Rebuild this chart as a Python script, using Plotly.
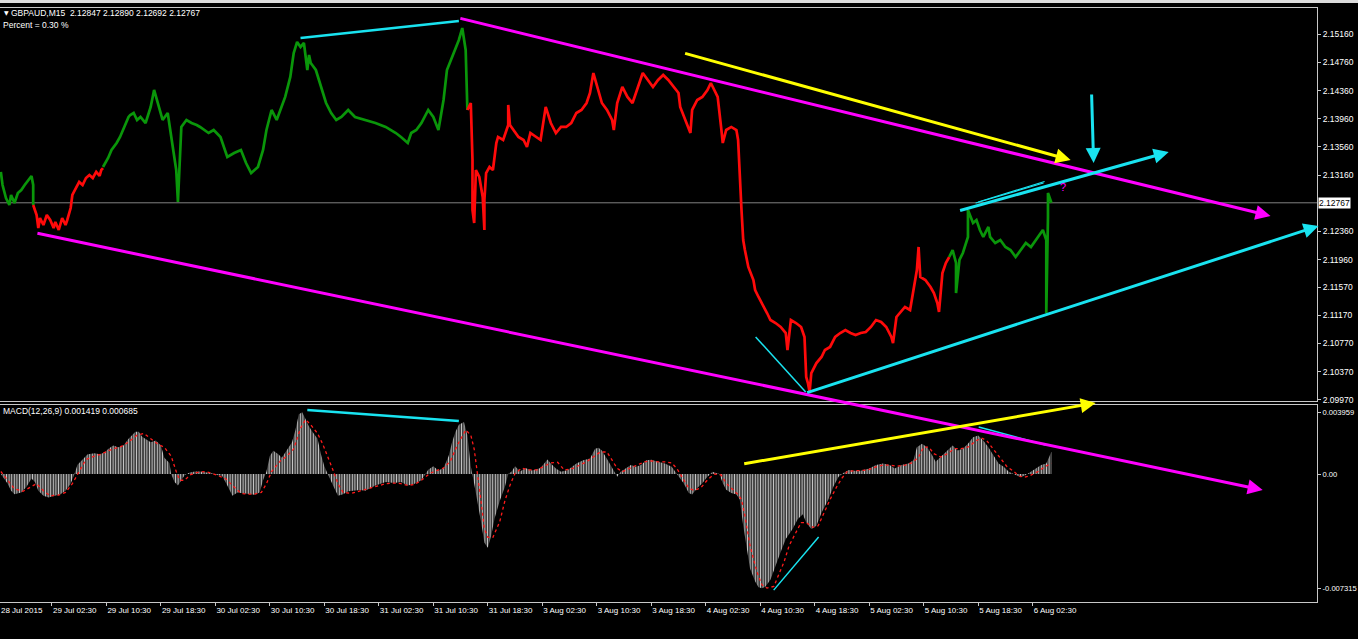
import plotly.graph_objects as go

W, H = 1358, 639

# ---------------- price data (bar index, price) by colour segment ----------------
g1_bar = [0, 1, 3, 5, 6, 8, 10, 12, 14, 16, 18, 19, 19]
g1_price = [2.13205, 2.13020, 2.12835, 2.12736, 2.12878, 2.12764, 2.12906, 2.12949, 2.13020, 2.13091,
            2.13148, 2.13020, 2.12736]

r1_bar = [19, 21, 22, 23, 25, 27, 29, 31, 32, 34, 36, 38, 39, 41, 42, 44, 46, 48, 50, 52, 54, 56, 58, 59, 60]
r1_price = [2.12736, 2.12594, 2.12409, 2.12551, 2.12452, 2.12594, 2.12523, 2.12409, 2.12495, 2.12381,
            2.12551, 2.12452, 2.12523, 2.12693, 2.12878, 2.12977, 2.13063, 2.13020, 2.13119, 2.13162,
            2.13119, 2.13205, 2.13148, 2.13233, 2.13261]

g2_bar = [60, 63, 65, 68, 70, 73, 75, 76, 78, 80, 82, 85, 88, 90, 92, 95, 98, 101, 103, 104,
          105, 106, 109, 112, 115, 117, 122, 125, 129, 133, 137, 141, 144, 147, 151, 154, 156, 159, 162, 164,
          167, 170, 172, 174, 176, 178, 180, 181, 182, 185, 188, 191, 194, 197, 200, 204, 208, 214, 220, 226,
          232, 235, 239, 241, 244, 247, 251, 254, 257, 258, 260, 262, 266, 269, 271, 273, 274]
g2_price = [2.13276, 2.13403, 2.13517, 2.13616, 2.13702, 2.13872, 2.13986, 2.14014, 2.14042, 2.13943,
            2.13986, 2.13900, 2.14128, 2.14369, 2.14184, 2.13943, 2.14042, 2.13517, 2.13233, 2.12779,
            2.13375, 2.13844, 2.13943, 2.13900, 2.13872, 2.13844, 2.13758, 2.13801, 2.13702, 2.13418,
            2.13474, 2.13517, 2.13332, 2.13190, 2.13276, 2.13517, 2.13801, 2.14085, 2.13943, 2.14085,
            2.14270, 2.14554, 2.14894, 2.15051, 2.14980, 2.15036, 2.14653, 2.14866, 2.14752, 2.14653,
            2.14412, 2.14184, 2.14042, 2.13943, 2.13986, 2.14085, 2.13986, 2.13943, 2.13900, 2.13844,
            2.13758, 2.13702, 2.13616, 2.13758, 2.13801, 2.13900, 2.14085, 2.13986, 2.13801, 2.13943,
            2.14227, 2.14653, 2.14894, 2.15079, 2.15249, 2.14937, 2.14085]

r2_bar = [274, 276, 277, 277, 278, 279, 281, 283, 284, 284, 285, 287, 289, 291, 292, 295, 298, 298, 299, 301,
          304, 307, 309, 311, 314, 317, 320, 323, 326, 329, 332, 335, 338, 341, 344, 346, 348, 351, 353, 356,
          359, 360, 362, 365, 368, 371, 374, 377, 380, 383, 386, 389, 392, 395, 398, 399, 402, 404, 405, 406,
          409, 412, 415, 417, 419, 421, 423, 424, 426, 429, 432, 433, 435, 436, 437, 439, 442, 443, 445, 447,
          450, 452, 455, 458, 461, 462, 464, 467, 470, 472, 473, 474, 475, 476, 479, 482, 484, 487, 490, 493,
          496, 499, 502, 505, 508, 511, 514, 517, 520, 523, 524, 526, 528, 531, 534, 536, 538, 539, 540, 543,
          546, 548, 550, 551, 553, 555, 557]
r2_price = [2.14085, 2.14184, 2.13375, 2.12665, 2.12480, 2.13233, 2.13134, 2.12850, 2.12381, 2.12807,
            2.13190, 2.13276, 2.13233, 2.13616, 2.13702, 2.13659, 2.13872, 2.14156, 2.13872, 2.13801,
            2.13702, 2.13659, 2.13560, 2.13758, 2.13702, 2.13659, 2.14128, 2.13900, 2.13758, 2.13844,
            2.13844, 2.13900, 2.14042, 2.14085, 2.14184, 2.14326, 2.14610, 2.14369, 2.14184, 2.14085,
            2.13943, 2.13801, 2.14184, 2.14412, 2.14270, 2.14184, 2.14412, 2.14610, 2.14511, 2.14412,
            2.14511, 2.14582, 2.14511, 2.14412, 2.14326, 2.14128, 2.13943, 2.13844, 2.13758, 2.14085,
            2.14227, 2.14270, 2.14369, 2.14468, 2.14369, 2.14270, 2.13844, 2.13616, 2.13801, 2.13844,
            2.13801, 2.13659, 2.12665, 2.12239, 2.12097, 2.11856, 2.11671, 2.11529, 2.11430, 2.11344,
            2.11202, 2.11103, 2.11060, 2.11004, 2.10918, 2.10677, 2.11103, 2.11060, 2.11004, 2.10862,
            2.10294, 2.10208, 2.10081, 2.10350, 2.10492, 2.10578, 2.10677, 2.10720, 2.10862, 2.10918,
            2.10961, 2.10918, 2.10890, 2.10918, 2.10933, 2.11004, 2.11103, 2.11075, 2.11004, 2.10862,
            2.10776, 2.11146, 2.11202, 2.11288, 2.11245, 2.11529, 2.11813, 2.12140, 2.11714, 2.11671,
            2.11572, 2.11486, 2.11344, 2.11217, 2.11770, 2.11912, 2.11998]

g3_bar = [557, 559, 561, 561, 563, 565, 568, 568, 571, 573, 575, 577, 580, 581, 584, 587, 590, 593, 596, 599,
          602, 605, 608, 611, 612, 614, 614, 615, 615, 617]
g3_price = [2.11998, 2.12097, 2.11912, 2.11486, 2.11955, 2.12054, 2.12282, 2.12665, 2.12480, 2.12523,
            2.12381, 2.12282, 2.12424, 2.12282, 2.12196, 2.12239, 2.12140, 2.12097, 2.11998, 2.12097,
            2.12196, 2.12140, 2.12239, 2.12338, 2.12381, 2.12239, 2.11202, 2.12566, 2.12906, 2.12767]

last_price = 2.12767

# ---------------- MACD (12,26,9) ----------------
hist_bar = [0, 2, 4, 6, 8, 12, 15, 18, 20, 22, 25, 28, 31, 35, 38, 41, 43, 45, 48, 51,
            55, 58, 61, 63, 66, 69, 72, 75, 79, 81, 83, 85, 88, 91, 94, 96, 99, 100, 102, 104,
            106, 108, 111, 114, 117, 121, 124, 127, 130, 133, 136, 139, 143, 146, 149, 152, 154, 156, 158, 160,
            163, 165, 167, 169, 171, 173, 175, 177, 179, 181, 183, 186, 188, 190, 192, 194, 196, 198, 201, 204,
            208, 211, 214, 217, 220, 223, 226, 231, 235, 239, 243, 247, 251, 254, 257, 260, 263, 265, 267, 269,
            272, 274, 276, 278, 280, 282, 284, 286, 288, 290, 293, 296, 298, 300, 302, 305, 308, 312, 317, 321,
            323, 326, 329, 333, 338, 342, 346, 349, 351, 353, 357, 360, 362, 364, 367, 370, 373, 376, 379, 382,
            386, 390, 394, 397, 401, 404, 406, 409, 412, 415, 418, 422, 424, 426, 429, 432, 434, 436, 438, 440,
            443, 445, 447, 449, 452, 455, 458, 461, 465, 468, 471, 473, 476, 479, 482, 486, 489, 492, 495, 498,
            501, 505, 510, 514, 518, 522, 525, 529, 533, 536, 538, 541, 544, 547, 549, 553, 556, 559, 562, 565,
            568, 571, 574, 577, 580, 583, 586, 589, 592, 596, 599, 602, 605, 608, 611, 614, 617]
hist_val = [0, -0.00029, -0.00062, -0.00107, -0.00129, -0.00118, -0.00084, -0.00029, -0.00051, -0.00107,
            -0.00140, -0.00151, -0.00140, -0.00129, -0.00107, -0.00062, -0.00007, 0.00060, 0.00093, 0.00127,
            0.00133, 0.00127, 0.00138, 0.00160, 0.00182, 0.00171, 0.00182, 0.00226, 0.00271, 0.00271,
            0.00238, 0.00226, 0.00204, 0.00215, 0.00182, 0.00104, 0.00071, 0, -0.00051, -0.00073,
            -0.00040, -0.00007, 0.00009, 0.00016, 0.00016, 0.00009, 0.00004, -0.00007, -0.00013, -0.00073,
            -0.00140, -0.00118, -0.00124, -0.00129, -0.00133, -0.00118, -0.00040, 0.00016, 0.00115, 0.00149,
            0.00127, 0.00104, 0.00138, 0.00171, 0.00204, 0.00282, 0.00382, 0.003959, 0.00349, 0.00304,
            0.00271, 0.00226, 0.00127, 0.00049, 0, -0.00051, -0.00095, -0.00140, -0.00129, -0.00111,
            -0.00107, -0.00102, -0.00107, -0.00089, -0.00073, -0.00062, -0.00051, -0.00058, -0.00051, -0.00073,
            -0.00062, -0.00040, 0.00027, 0.00049, 0.00022, 0.00038, 0.00115, 0.00204, 0.00271, 0.00315,
            0.00333, 0.00249, 0.00049, -0.00062, -0.00173, -0.00306, -0.00440, -0.00473, -0.00395, -0.00284,
            -0.00173, -0.00084, 0, 0.00016, 0.00049, 0.00016, 0.00038, 0.00022, 0.00038, 0.00093,
            0.00067, 0.00036, 0.00015, 0.00025, 0.00067, 0.00088, 0.00099, 0.00162, 0.00168, 0.00151,
            0.00078, 0.00015, -0.00017, 0.00015, 0.00036, 0.00057, 0.00046, 0.00057, 0.00088, 0.00092,
            0.00078, 0.00067, 0.00046, 0, -0.00059, -0.00122, -0.00132, -0.00090, -0.00059, -0.00017,
            0.00015, 0, -0.00059, -0.00101, -0.00122, -0.00132, -0.00164, -0.00332, -0.00479, -0.00605,
            -0.00689, -0.00725, -0.007315, -0.00722, -0.00678, -0.00584, -0.00500, -0.00416, -0.00353, -0.00290,
            -0.00258, -0.00311, -0.00353, -0.00332, -0.00248, -0.00164, -0.00080, -0.00017, 0.00008, 0.00025,
            0.00021, 0.00021, 0.00036, 0.00057, 0.00067, 0.00057, 0.00036, 0.00057, 0.00067, 0.00088,
            0.00172, 0.00193, 0.00172, 0.00120, 0.00078, 0.00120, 0.00151, 0.00183, 0.00151, 0.00162,
            0.00193, 0.00235, 0.00246, 0.00214, 0.00172, 0.00120, 0.00067, 0.00046, 0.00015, -0.00006,
            -0.00021, -0.00006, 0.00015, 0.00036, 0.00057, 0.00067, 0.001419]

sig_bar = [0, 4, 8, 13, 17, 21, 25, 29, 34, 38, 42, 46, 50, 55, 59, 63, 67, 71, 75, 80,
           84, 88, 92, 96, 100, 103, 105, 108, 111, 115, 120, 124, 128, 132, 136, 141, 145, 149, 153, 156,
           159, 164, 168, 172, 176, 179, 182, 186, 189, 192, 195, 198, 201, 206, 210, 214, 218, 222, 226, 231,
           235, 239, 243, 247, 252, 256, 260, 264, 268, 273, 276, 278, 280, 282, 284, 286, 289, 293, 296, 299,
           302, 306, 310, 315, 319, 323, 327,
           331, 336, 340, 344, 348, 352, 356, 359, 362, 365, 369, 373, 378, 382, 386, 390, 394, 397, 401, 404,
           407, 411, 415, 419, 423, 426, 430, 433, 435, 437, 440, 444, 447, 450, 454, 457, 460, 463, 467, 470,
           473, 477, 480, 483, 487, 491, 494, 497, 501, 505, 510, 514, 518, 522, 526, 531, 535, 539, 542, 545,
           548, 552, 556, 560, 564, 568, 573, 576, 579, 582, 585, 588, 591, 595, 598, 601, 604, 607, 610, 613,
           617]
sig_val = [0.00016, -0.00040, -0.00095, -0.00111, -0.00089, -0.00062, -0.00107, -0.00140, -0.00135, -0.00118,
           -0.00062, 0.00016, 0.00093, 0.00115, 0.00127, 0.00149, 0.00164, 0.00178, 0.00204, 0.00249,
           0.00260, 0.00226, 0.00193, 0.00171, 0.00115, 0.00016, -0.00040, -0.00040, -0.00007, 0.00009,
           0.00016, 0.00004, -0.00013, -0.00029, -0.00073, -0.00124, -0.00129, -0.00129, -0.00118, -0.00062,
           0.00016, 0.00082, 0.00115, 0.00160, 0.00293, 0.00349, 0.00315, 0.00260, 0.00193, 0.00115,
           0.00027, -0.00062, -0.00118, -0.00124, -0.00111, -0.00102, -0.00089, -0.00073, -0.00062, -0.00058,
           -0.00062, -0.00073, -0.00067, -0.00040, 0.00004, 0.00022, 0.00038, 0.00082, 0.00182, 0.00282,
           0.00249, 0.00160, 0.00004, -0.00173, -0.00351, -0.00406, -0.00406, -0.00306, -0.00173, -0.00073,
           0.00004, 0.00038, 0.00027, 0.00027, 0.00049, 0.00071, 0.00075,
           0.00025, 0.00036, 0.00057, 0.00078, 0.00109, 0.00141, 0.00141, 0.00088, 0.00036, 0.00015,
           0.00036, 0.00057, 0.00078, 0.00084, 0.00078, 0.00078, 0.00071, 0.00036, -0.00038, -0.00090,
           -0.00105, -0.00090, -0.00038, 0, -0.00006, -0.00059, -0.00101, -0.00132, -0.00164, -0.00269,
           -0.00458, -0.00626, -0.00710, -0.00731, -0.00720, -0.00647, -0.00563, -0.00458, -0.00374, -0.00311,
           -0.00311, -0.00342, -0.00332, -0.00258, -0.00164, -0.00080, -0.00027, 0.00015, 0.00021, 0.00021,
           0.00029, 0.00046, 0.00057, 0.00057, 0.00050, 0.00057, 0.00071, 0.00109, 0.00172, 0.00172,
           0.00130, 0.00109, 0.00130, 0.00162, 0.00162, 0.00172, 0.00214, 0.00231, 0.00214, 0.00172,
           0.00130, 0.00088, 0.00046, 0.00015, -0.00013, -0.00021, -0.00013, 0.00004, 0.00021, 0.00046,
           0.000685]

# ---------------- axis labels ----------------
price_ticks = [2.15160, 2.14760, 2.14360, 2.13960, 2.13560, 2.13160, 2.12360, 2.11960, 2.11570,
               2.11170, 2.10770, 2.10370, 2.09970]
price_tick_text = ["2.15160", "2.14760", "2.14360", "2.13960", "2.13560", "2.13160", "2.12360", "2.11960",
                   "2.11570", "2.11170", "2.10770", "2.10370", "2.09970"]
macd_ticks = [0.003959, 0.0, -0.007315]
macd_tick_text = ["0.003959", "0.00", "-0.007315"]
time_tick_bars = [30, 62, 94, 126, 158, 190, 222, 254, 286, 318, 350, 382, 414, 446, 478, 510, 542, 574, 606]
time_tick_text = ["29 Jul 02:30", "29 Jul 10:30", "29 Jul 18:30", "30 Jul 02:30", "30 Jul 10:30",
                  "30 Jul 18:30", "31 Jul 02:30", "31 Jul 10:30", "31 Jul 18:30", "3 Aug 02:30",
                  "3 Aug 10:30", "3 Aug 18:30", "4 Aug 02:30", "4 Aug 10:30", "4 Aug 18:30",
                  "5 Aug 02:30", "5 Aug 10:30", "5 Aug 18:30", "6 Aug 02:30"]
first_date_text = "28 Jul 2015"

# ---------------- hand-drawn objects, anchored to (bar, value) ----------------
price_lines = [  # (bar0, price0, bar1, price1, colour, width)
    (176, 2.15107, 269, 2.15349, "#19e3f0", 2.5),
    (572.5, 2.12764, 612.4, 2.13048, "#19e3f0", 1.2),
    (574, 2.12778, 613, 2.13070, "#19e3f0", 1.2),
    (443.3, 2.10862, 472.7, 2.10081, "#19e3f0", 1.5),
]
price_arrows = [  # (tail bar, tail price, head bar, head price, colour, width)
    (269, 2.15391, 745.7, 2.12580, "#ff00ff", 3),
    (20.6, 2.12338, 741.1, 2.08689, "#ff00ff", 3),
    (401, 2.14894, 628.3, 2.13375, "#ffff00", 3),
    (640.6, 2.14326, 641.8, 2.13332, "#19e3f0", 3),
    (562.5, 2.12651, 685.9, 2.13489, "#19e3f0", 3),
    (472.7, 2.10066, 773.9, 2.12438, "#19e3f0", 3),
]
macd_lines = [
    (180, 0.00410, 269, 0.00340, "#19e3f0", 2.5),
    (574.3, 0.00301, 613.6, 0.00186, "#19e3f0", 1.5),
    (453.9, -0.00744, 480.3, -0.00404, "#19e3f0", 1.5),
]
macd_arrows = [
    (435.7, 0.00064, 643.0, 0.00455, "#ffff00", 3),
]
question_mark = (624, 2.12992)

# ---------------- figure ----------------
GREEN = "#0a960a"
RED = "#ff0a0a"
AXC = "#c8c8c8"
FONT = "Liberation Sans"

XR = 1317 / W
PRICE_DOM = [1 - 401 / H, 1 - 8 / H]
MACD_DOM = [1 - 602 / H, 1 - 405 / H]

fig = go.Figure()

for b, p, c in [(g1_bar, g1_price, GREEN), (r1_bar, r1_price, RED), (g2_bar, g2_price, GREEN),
                (r2_bar, r2_price, RED), (g3_bar, g3_price, GREEN)]:
    fig.add_trace(go.Scatter(x=b, y=p, mode="lines", line=dict(color=c, width=2.7),
                             xaxis="x", yaxis="y", hoverinfo="skip"))

fig.add_trace(go.Scatter(x=hist_bar, y=hist_val, mode="lines", line=dict(width=0, color="#c0c0c0"),
                         fill="tozeroy", fillcolor="rgba(0,0,0,0)",
                         fillpattern=dict(shape="|", fgcolor="#c4c4c4", bgcolor="rgba(0,0,0,0)",
                                          size=2.6, solidity=0.55),
                         xaxis="x2", yaxis="y2", hoverinfo="skip"))
fig.add_trace(go.Scatter(x=sig_bar, y=sig_val, mode="lines",
                         line=dict(color="#ff1a1a", width=1.3, dash="dot"),
                         xaxis="x2", yaxis="y2", hoverinfo="skip"))

# bid line
fig.add_shape(type="line", xref="x", yref="y", x0=-0.5, x1=773, y0=last_price, y1=last_price,
              line=dict(color="#808080", width=1), layer="below")

for b0, p0, b1, p1, c, w in price_lines:
    fig.add_shape(type="line", xref="x", yref="y", x0=b0, y0=p0, x1=b1, y1=p1, line=dict(color=c, width=w))
for b0, p0, b1, p1, c, w in macd_lines:
    fig.add_shape(type="line", xref="x2", yref="y2", x0=b0, y0=p0, x1=b1, y1=p1, line=dict(color=c, width=w))


def add_arrow(b0, p0, b1, p1, c, w, xr, yr):
    fig.add_annotation(x=b1, y=p1, ax=b0, ay=p0, xref=xr, yref=yr, axref=xr, ayref=yr, text="",
                       showarrow=True, arrowhead=2, arrowsize=1.0, arrowwidth=w, arrowcolor=c, standoff=0)


for a in price_arrows:
    add_arrow(*a, "x", "y")
for a in macd_arrows:
    add_arrow(*a, "x2", "y2")

fig.add_annotation(x=question_mark[0], y=question_mark[1], xref="x", yref="y", text="?", showarrow=False,
                   font=dict(family=FONT, size=11, color="#ff00ff"))

# current price box
fig.add_annotation(x=1318 / W, y=last_price, xref="paper", yref="y", xanchor="left", yanchor="middle",
                   text="2.12767", showarrow=False, bgcolor="#ffffff", borderpad=0,
                   font=dict(family=FONT, size=8.5, color="#000000"))

# header texts
fig.add_annotation(x=2 / W, y=1 - 13 / H, xref="paper", yref="paper", xanchor="left", yanchor="middle",
                   text="\u25BC", showarrow=False, font=dict(family="DejaVu Sans", size=6, color="#ffffff"))
fig.add_annotation(x=9 / W, y=1 - 13 / H, xref="paper", yref="paper", xanchor="left", yanchor="middle",
                   text="GBPAUD,M15\u00a0 2.12847 2.12890 2.12692 2.12767", showarrow=False,
                   font=dict(family=FONT, size=8.5, color="#ffffff"))
fig.add_annotation(x=1 / W, y=1 - 25 / H, xref="paper", yref="paper", xanchor="left", yanchor="middle",
                   text="Percent = 0.30 %", showarrow=False, font=dict(family=FONT, size=8.5, color="#ffffff"))
fig.add_annotation(x=1 / W, y=1 - 411 / H, xref="paper", yref="paper", xanchor="left", yanchor="middle",
                   text="MACD(12,26,9) 0.001419 0.000685", showarrow=False,
                   font=dict(family=FONT, size=8.5, color="#ffffff"))
fig.add_annotation(x=0, y=1 - 610 / H, xref="paper", yref="paper", xanchor="left", yanchor="middle",
                   text=first_date_text, showarrow=False, borderpad=0,
                   font=dict(family=FONT, size=8, color="#ffffff"))

# window frame strip at top
fig.add_shape(type="rect", xref="paper", yref="paper", x0=0, x1=1, y0=1 - 3 / H, y1=1,
              fillcolor="#dcdcdc", line=dict(width=0))

common_x = dict(range=[-0.5, 773], domain=[0, XR], showgrid=False, zeroline=False, showline=True,
                mirror=True, linecolor=AXC, linewidth=1, automargin=False, fixedrange=True)
common_y = dict(side="right", showgrid=False, zeroline=False, showline=True, mirror=True, linecolor=AXC,
                linewidth=1, ticks="outside", ticklen=3, tickcolor=AXC, automargin=False, fixedrange=True)

fig.update_layout(
    template="none",
    width=W, height=H, margin=dict(l=0, r=0, t=0, b=0),
    paper_bgcolor="#000000", plot_bgcolor="#000000", showlegend=False,
    xaxis=dict(anchor="y", showticklabels=False, ticks="", **common_x),
    yaxis=dict(anchor="x", domain=PRICE_DOM, range=[2.09953, 2.15533], tickvals=price_ticks,
               ticktext=price_tick_text, tickfont=dict(family=FONT, size=8.5, color="#ffffff"), **common_y),
    xaxis2=dict(anchor="y2", tickvals=time_tick_bars, ticktext=time_tick_text, ticks="outside", ticklen=3,
                tickcolor=AXC, ticklabelposition="outside right",
                tickfont=dict(family=FONT, size=8, color="#ffffff"), **common_x),
    yaxis2=dict(anchor="x2", domain=MACD_DOM, range=[-0.0082, 0.00442], tickvals=macd_ticks,
                ticktext=macd_tick_text, ticklabelstandoff=0,
                tickfont=dict(family=FONT, size=7.6, color="#ffffff"), **common_y),
)

fig.write_html("out.html", config={"displayModeBar": False},
               post_script="document.body.style.margin='0';document.body.style.overflow='hidden';")
